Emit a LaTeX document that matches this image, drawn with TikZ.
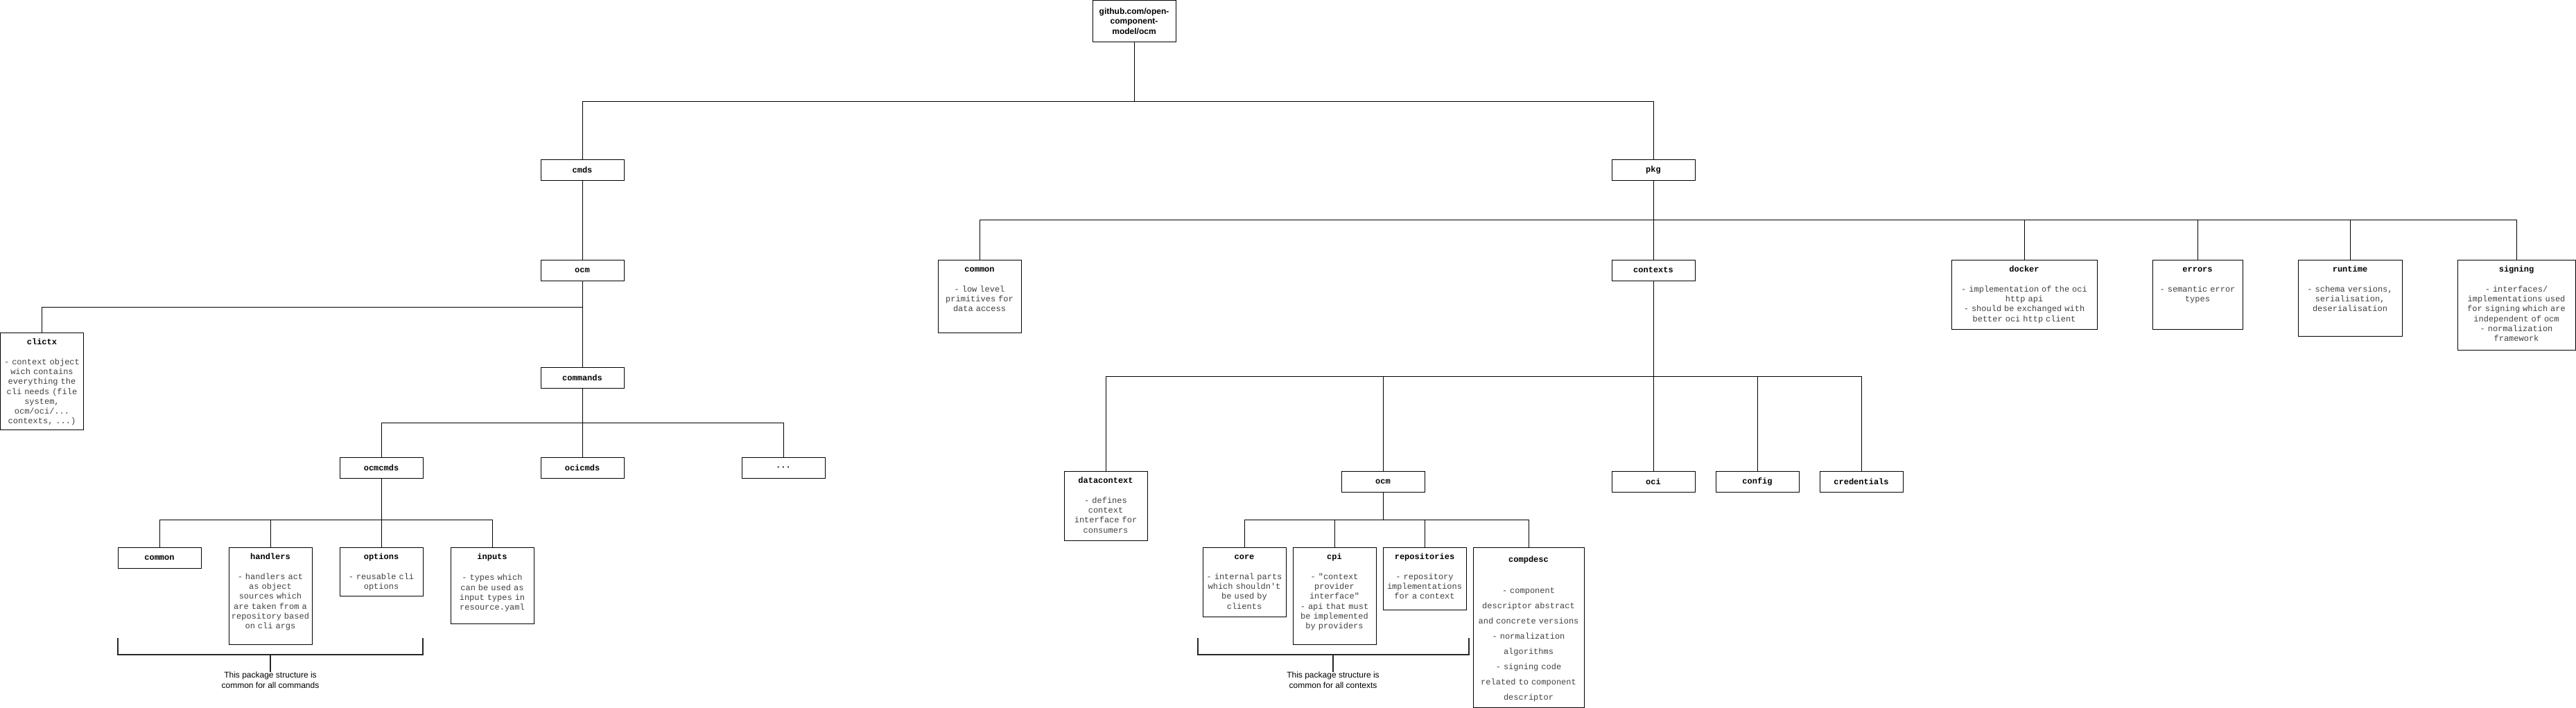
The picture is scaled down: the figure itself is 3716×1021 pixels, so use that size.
\documentclass[tikz,border=0pt]{standalone}
\usepackage{fontspec}
\setmainfont{Liberation Sans}
\setmonofont{Liberation Mono}
\usepackage{tikz}
\usetikzlibrary{positioning}

\newcommand{\pkgtitle}[1]{{\color{black}\bfseries #1}}

\tikzset{
  pkgbox/.style={draw, line width=1pt, inner sep=0pt, minimum width=120pt, minimum height=30pt,
    font=\ttfamily\bfseries\fontsize{12}{14.3}\selectfont},
  descbox/.style={draw, line width=1pt, inner sep=0pt, anchor=north, align=center, text=black!75,
    font=\ttfamily\fontsize{12}{14.3}\selectfont, text height=17pt},
  branch/.style={line width=1pt},
  bracket/.style={line width=2pt, black!85},
  note/.style={anchor=north, align=center, inner sep=0pt, font=\fontsize{12}{15}\selectfont}
}

\begin{document}
\begin{tikzpicture}[x=1pt, y=-1pt]
      \useasboundingbox (0,0) rectangle (3716,1021);

      % root
      \node[draw, line width=1pt, minimum width=120pt, minimum height=60pt, align=center,
        font=\bfseries\fontsize{12}{14.3}\selectfont] (root) at (1636,30.5) {github.com/open-\\component-\\model/ocm};

      % cmds side
      \node[pkgbox] (cmds) at (840,245) {cmds};
      \node[pkgbox] (cliocm) at (840,390) {ocm};
      \node[pkgbox] (commands) at (840,545) {commands};
      \node[pkgbox] (ocmcmds) at (550,675) {ocmcmds};
      \node[pkgbox] (ocicmds) at (840,675) {ocicmds};
      \node[pkgbox] (morecmds) at (1130,675) {...};
      \node[descbox, text width=120pt, text depth=123pt] (clictx) at (60.5,480) {\pkgtitle{clictx}\\[14.3pt]
        - context object\\wich contains\\everything the\\cli needs (file\\system,\\ocm/oci/...\\contexts, ...)};
      \node[pkgbox] (cmdcommon) at (230,805) {common};
      \node[descbox, text width=120pt, text depth=123pt] (handlers) at (390,790) {\pkgtitle{handlers}\\[14.3pt]
        - handlers act\\as object\\sources which\\are taken from a\\repository based\\on cli args};
      \node[descbox, text width=120pt, text depth=53pt] (options) at (550,790) {\pkgtitle{options}\\[14.3pt]
        - reusable cli\\options};
      \node[descbox, text width=120pt, text depth=93pt] (inputs) at (710,790) {\pkgtitle{inputs}\\[16pt]
        - types which\\can be used as\\input types in\\resource.yaml};

      % pkg side
      \node[pkgbox] (pkg) at (2385,245) {pkg};
      \node[descbox, text width=120pt, text depth=88pt] (pkgcommon) at (1413,375) {\pkgtitle{common}\\[14.3pt]
        - low level\\primitives for\\data access};
      \node[pkgbox] (contexts) at (2385,390) {contexts};
      \node[descbox, text width=210pt, text depth=83pt] (docker) at (2920,375) {\pkgtitle{docker}\\[14.3pt]
        - implementation of the oci\\http api\\- should be exchanged with\\better oci http client};
      \node[descbox, text width=130pt, text depth=83pt] (errors) at (3170,375) {\pkgtitle{errors}\\[14.3pt]
        - semantic error\\types};
      \node[descbox, text width=150pt, text depth=93pt] (runtime) at (3390,375) {\pkgtitle{runtime}\\[14.3pt]
        - schema versions,\\serialisation,\\deserialisation};
      \node[descbox, text width=170pt, text depth=113pt] (signing) at (3630,375) {\pkgtitle{signing}\\[14.3pt]
        - interfaces/\\implementations used\\for signing which are\\independent of ocm\\- normalization\\framework};

      % contexts
      \node[descbox, text width=120pt, text depth=83pt] (datacontext) at (1595,680) {\pkgtitle{datacontext}\\[14.3pt]
        - defines\\context\\interface for\\consumers};
      \node[pkgbox] (ctxocm) at (1995,695) {ocm};
      \node[pkgbox] (oci) at (2385,695) {oci};
      \node[pkgbox] (config) at (2535,695) {config};
      \node[pkgbox] (credentials) at (2685,695) {credentials};
      \node[descbox, text width=120pt, text depth=83pt] (core) at (1795,790) {\pkgtitle{core}\\[14.3pt]
        - internal parts\\which shouldn't\\be used by\\clients};
      \node[descbox, text width=120pt, text depth=123pt] (cpi) at (1925,790) {\pkgtitle{cpi}\\[14.3pt]
        - "context\\provider\\interface"\\- api that must\\be implemented\\by providers};
      \node[descbox, text width=120pt, text depth=73pt] (repositories) at (2055,790) {\pkgtitle{repositories}\\[14.3pt]
        - repository\\implementations\\for a context};
      \node[descbox, text width=160pt, text height=21pt, text depth=209.5pt,
        font=\ttfamily\fontsize{12}{22}\selectfont] (compdesc) at (2205,790) {\pkgtitle{compdesc}\\[23pt]
        - component\\descriptor abstract\\and concrete versions\\- normalization\\algorithms\\- signing code\\related to component\\descriptor};

      % notes
      \node[note] (cmdnote) at (390,970) {This package structure is\\common for all commands};
      \node[note] (ctxnote) at (1923,970) {This package structure is\\common for all contexts};

      % tree lines
      \draw[branch] (root.south) -- ++(0,85) -| (cmds.north);
      \draw[branch] (root.south) -- ++(0,85) -| (pkg.north);
      \draw[branch] (cmds) -- (cliocm);
      \draw[branch] (cliocm.south) -- ++(0,38) -| (clictx.north);
      \draw[branch] (cliocm) -- (commands);
      \draw[branch] (commands.south) -- ++(0,50) -| (ocmcmds.north);
      \draw[branch] (commands) -- (ocicmds);
      \draw[branch] (commands.south) -- ++(0,50) -| (morecmds.north);
      \draw[branch] (ocmcmds.south) -- ++(0,60) -| (cmdcommon.north);
      \draw[branch] (ocmcmds.south) -- ++(0,60) -| (handlers.north);
      \draw[branch] (ocmcmds) -- (options);
      \draw[branch] (ocmcmds.south) -- ++(0,60) -| (inputs.north);

      \draw[branch] (pkg.south) -- ++(0,57) -| (pkgcommon.north);
      \draw[branch] (pkg) -- (contexts);
      \draw[branch] (pkg.south) -- ++(0,57) -| (docker.north);
      \draw[branch] (pkg.south) -- ++(0,57) -| (errors.north);
      \draw[branch] (pkg.south) -- ++(0,57) -| (runtime.north);
      \draw[branch] (pkg.south) -- ++(0,57) -| (signing.north);

      \draw[branch] (contexts.south) -- ++(0,138) -| (datacontext.north);
      \draw[branch] (contexts.south) -- ++(0,138) -| (ctxocm.north);
      \draw[branch] (contexts) -- (oci);
      \draw[branch] (contexts.south) -- ++(0,138) -| (config.north);
      \draw[branch] (contexts.south) -- ++(0,138) -| (credentials.north);
      \draw[branch] (ctxocm.south) -- ++(0,40) -| (core.north);
      \draw[branch] (ctxocm.south) -- ++(0,40) -| (cpi.north);
      \draw[branch] (ctxocm.south) -- ++(0,40) -| (repositories.north);
      \draw[branch] (ctxocm.south) -- ++(0,40) -| (compdesc.north);

      % brackets
      \coordinate (cmdbrk) at (390,945);
      \draw[bracket] (170,921) -- (170,945) -- (610,945) -- (610,921);
      \draw[bracket] (cmdbrk) -- (cmdnote.north);
      \coordinate (ctxbrk) at (1923,945);
      \draw[bracket] (1728,921) -- (1728,945) -- (2119,945) -- (2119,921);
      \draw[bracket] (ctxbrk) -- (ctxnote.north);
\end{tikzpicture}
\end{document}
